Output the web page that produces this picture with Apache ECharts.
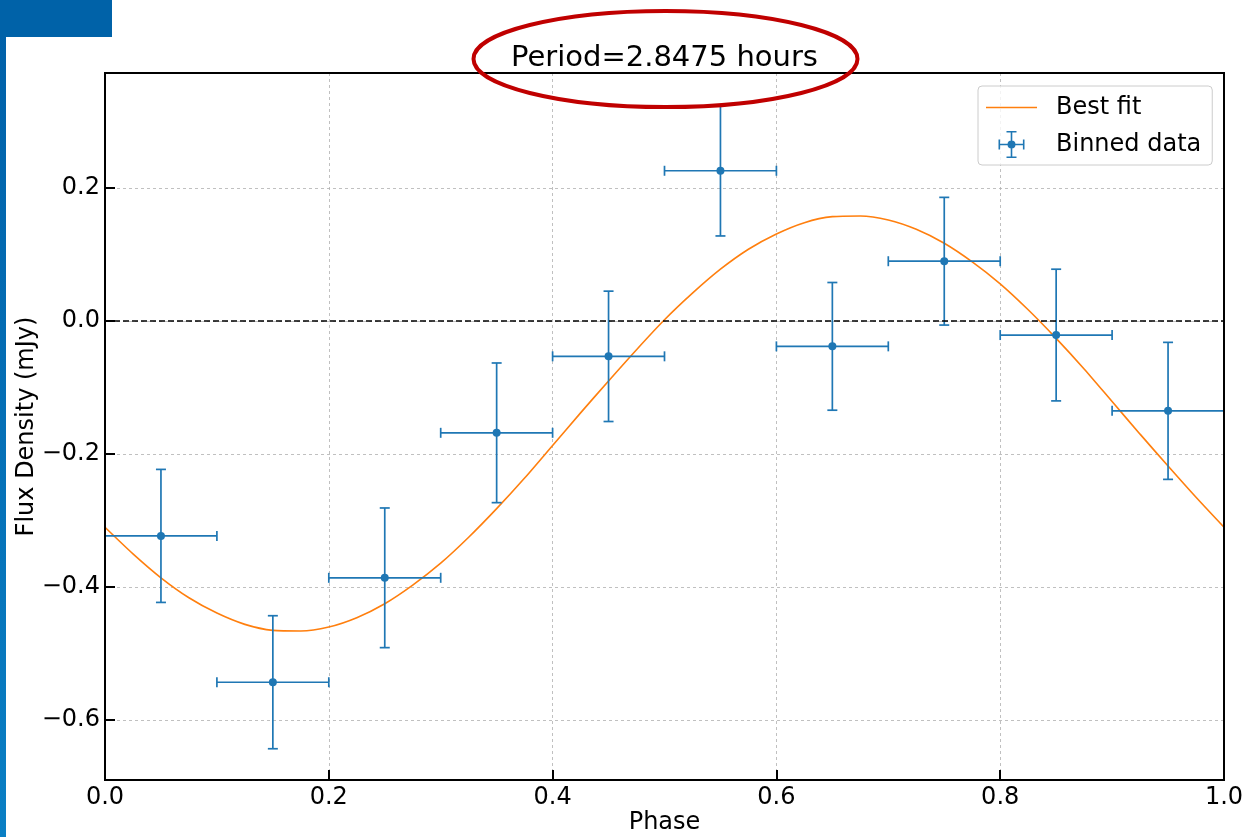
<!DOCTYPE html>
<html>
<head>
<meta charset="utf-8">
<script src="https://cdn.jsdelivr.net/npm/echarts@6/dist/echarts.min.js"></script>
<style>
  html, body { margin: 0; padding: 0; background: #ffffff; }
  #chart { width: 1247px; height: 837px; }
</style>
</head>
<body>
<div id="chart"></div>
<script>
// Phase-folded light curve: binned flux with error bars and a sinusoidal best fit
const binPhase = [0.05, 0.15, 0.25, 0.35, 0.45, 0.55, 0.65, 0.75, 0.85, 0.95];
const binFlux = [-0.323, -0.543, -0.386, -0.168, -0.053, 0.226, -0.038, 0.090, -0.021, -0.135];
const binFluxErr = [0.100, 0.100, 0.105, 0.105, 0.098, 0.098, 0.096, 0.096, 0.099, 0.103];
const binPhaseHalfWidth = [0.05, 0.05, 0.05, 0.05, 0.05, 0.05, 0.05, 0.05, 0.05, 0.05];

const fitPhase = [0.000, 0.025, 0.050, 0.075, 0.100, 0.125, 0.150, 0.175, 0.200, 0.225,
                  0.250, 0.275, 0.300, 0.325, 0.350, 0.375, 0.400, 0.425, 0.450, 0.475,
                  0.500, 0.525, 0.550, 0.575, 0.600, 0.625, 0.650, 0.675, 0.700, 0.725,
                  0.750, 0.775, 0.800, 0.825, 0.850, 0.875, 0.900, 0.925, 0.950, 0.975, 1.000];
const fitFlux = [-0.310, -0.350, -0.386, -0.416, -0.439, -0.456, -0.465, -0.466, -0.460, -0.446,
                 -0.425, -0.397, -0.364, -0.325, -0.282, -0.236, -0.187, -0.138, -0.090, -0.043,
                 0.002, 0.042, 0.078, 0.108, 0.131, 0.148, 0.157, 0.158, 0.152, 0.138,
                 0.117, 0.089, 0.056, 0.017, -0.026, -0.072, -0.121, -0.170, -0.218, -0.265, -0.310];

const titleText = 'Period=2.8475 hours';

const FONT = 'DejaVu Sans';
const BLUE = '#1f77b4';
const ORANGE = '#ff7f0e';

// plot frame in pixels
const PLOT = { left: 105, top: 73, right: 1224, bottom: 780 };

const fmtTick = v => (v < -1e-9 ? '\u2212' : '') + Math.abs(v).toFixed(1);

const chart = echarts.init(document.getElementById('chart'), null, { renderer: 'canvas' });

const errData = binPhase.map((p, i) => [p, binFlux[i], binPhaseHalfWidth[i], binFluxErr[i]]);
const fitData = fitPhase.map((p, i) => [p, fitFlux[i]]);

// legend glyphs: a plain line, and the error-bar marker (crossbars, caps, dot)
const lineIcon = 'path://M0,0M51,27M0,12.75H51V14.25H0Z';
const errIcon = 'path://M0,0M51,27' +
  'M12.5,12.7H38.5V14.3H12.5Z' +
  'M24.7,0H26.3V27H24.7Z' +
  'M12.5,8.5H14.1V18.5H12.5Z' +
  'M36.9,8.5H38.5V18.5H36.9Z' +
  'M20.5,0H30.5V1.6H20.5Z' +
  'M20.5,25.4H30.5V27H20.5Z' +
  'M21.5,13.5A4,4,0,1,1,29.5,13.5A4,4,0,1,1,21.5,13.5Z';

const axisCommon = {
  type: 'value',
  nameLocation: 'middle',
  nameMoveOverlap: false,
  nameTextStyle: { fontFamily: FONT, fontSize: 24, color: '#000' },
  axisLine: { show: true, onZero: false, lineStyle: { color: '#000', width: 2 } },
  axisTick: { show: true, inside: true, length: 10, lineStyle: { color: '#000', width: 2 } },
  splitLine: { show: true, showMinLine: false, showMaxLine: false,
               lineStyle: { color: '#b0b0b0', width: 0.8, type: [3, 3] } }
};

const option = {
  backgroundColor: '#ffffff',
  animation: false,
  textStyle: { fontFamily: FONT },
  legend: {
    orient: 'vertical',
    left: 978,
    top: 86,
    padding: [8, 11, 7, 8],
    itemGap: 10,
    itemWidth: 51,
    itemHeight: 27,
    symbolKeepAspect: true,
    backgroundColor: 'rgba(255,255,255,0.8)',
    borderColor: '#cccccc',
    borderWidth: 1,
    borderRadius: 4,
    textStyle: { fontFamily: FONT, fontSize: 24, color: '#000', padding: [0, 0, 0, 14] },
    data: [
      { name: 'Best fit', icon: lineIcon },
      { name: 'Binned data', icon: errIcon }
    ]
  },
  grid: {
    left: PLOT.left, right: 1247 - PLOT.right, top: PLOT.top, bottom: 837 - PLOT.bottom,
    outerBoundsMode: 'none',
    containLabel: false,
    show: false
  },
  xAxis: Object.assign({}, axisCommon, {
    min: 0, max: 1, interval: 0.2,
    name: 'Phase',
    nameGap: 31,
    axisLabel: { fontFamily: FONT, fontSize: 24, color: '#000', margin: 6, formatter: fmtTick }
  }),
  yAxis: Object.assign({}, axisCommon, {
    min: -0.69, max: 0.373, splitNumber: 5,
    name: 'Flux Density (mJy)',
    nameGap: 66,
    axisLabel: { fontFamily: FONT, fontSize: 24, color: '#000', margin: 5,
                 showMinLabel: false, showMaxLabel: false, formatter: fmtTick }
  }),
  series: [
    {
      name: 'Best fit',
      type: 'line',
      data: fitData,
      smooth: 0.25,
      symbol: 'none',
      lineStyle: { color: ORANGE, width: 1.6 },
      itemStyle: { color: ORANGE },
      z: 3,
      markLine: {
        silent: true,
        symbol: 'none',
        label: { show: false },
        lineStyle: { color: '#000', width: 1.5, type: [6, 3] },
        data: [{ yAxis: 0 }]
      }
    },
    {
      name: 'Binned data',
      type: 'custom',
      data: errData,
      encode: { x: 0, y: 1 },
      itemStyle: { color: BLUE },
      z: 4,
      renderItem: function (params, api) {
        const x = api.value(0), y = api.value(1), xe = api.value(2), ye = api.value(3);
        const c = api.coord([x, y]);
        const l = api.coord([x - xe, y]);
        const r = api.coord([x + xe, y]);
        const t = api.coord([x, y + ye]);
        const b = api.coord([x, y - ye]);
        const cap = 5;
        const st = { stroke: BLUE, lineWidth: 1.7 };
        const line = (x1, y1, x2, y2) => ({ type: 'line', shape: { x1, y1, x2, y2 }, style: st });
        return {
          type: 'group',
          children: [
            line(l[0], l[1], r[0], r[1]),
            line(t[0], t[1], b[0], b[1]),
            line(l[0], l[1] - cap, l[0], l[1] + cap),
            line(r[0], r[1] - cap, r[0], r[1] + cap),
            line(t[0] - cap, t[1], t[0] + cap, t[1]),
            line(b[0] - cap, b[1], b[0] + cap, b[1]),
            { type: 'circle', shape: { cx: c[0], cy: c[1], r: 4 }, style: { fill: BLUE } }
          ]
        };
      }
    }
  ],
  graphic: [
    {
      // plot frame (all four spines)
      type: 'rect',
      z: 50,
      silent: true,
      shape: { x: PLOT.left, y: PLOT.top, width: PLOT.right - PLOT.left, height: PLOT.bottom - PLOT.top },
      style: { fill: 'none', stroke: '#000', lineWidth: 2 }
    },
    {
      type: 'text',
      z: 60,
      x: (PLOT.left + PLOT.right) / 2,
      y: 58,
      style: {
        text: titleText,
        font: '29px "DejaVu Sans"',
        fill: '#000',
        align: 'center',
        verticalAlign: 'middle'
      }
    },
    {
      type: 'rect',
      z: 100,
      shape: { x: 0, y: 0, width: 6, height: 837 },
      style: {
        fill: new echarts.graphic.LinearGradient(0, 0, 0, 1, [
          { offset: 0, color: '#0060a8' },
          { offset: 1, color: '#0a7fc4' }
        ])
      }
    },
    {
      type: 'rect',
      z: 100,
      shape: { x: 0, y: 0, width: 112, height: 37 },
      style: { fill: '#0062a8' }
    },
    {
      type: 'ellipse',
      z: 100,
      shape: { cx: 665.5, cy: 59, rx: 192, ry: 48 },
      style: { fill: 'none', stroke: '#c00000', lineWidth: 4 }
    }
  ]
};

chart.setOption(option);
</script>
</body>
</html>
